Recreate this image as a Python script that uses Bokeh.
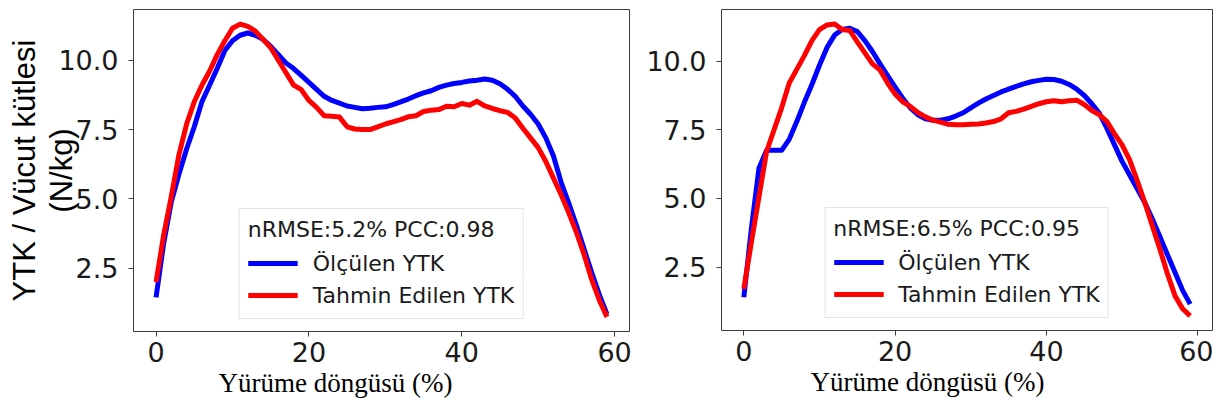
from bokeh.plotting import figure
from bokeh.layouts import row
from bokeh.models import (Legend, LegendItem, Range1d, FixedTicker,
                          PrintfTickFormatter, Title)
from bokeh.embed import file_html
from bokeh.resources import INLINE

# ---------------- data ----------------
frames = list(range(60))

left_measured = [1.45, 3.4, 4.9, 5.9, 6.8, 7.6, 8.5, 9.1, 9.7, 10.35,
                 10.7, 10.9, 10.98, 10.9, 10.75, 10.5, 10.2, 9.9, 9.7, 9.45,
                 9.2, 8.95, 8.7, 8.55, 8.45, 8.35, 8.3, 8.25, 8.27, 8.3,
                 8.32, 8.4, 8.5, 8.6, 8.72, 8.82, 8.9, 9.02, 9.1, 9.16,
                 9.2, 9.25, 9.28, 9.32, 9.28, 9.15, 8.95, 8.7, 8.35, 8.05,
                 7.7, 7.2, 6.55, 5.6, 4.85, 4.05, 3.2, 2.35, 1.55, 0.85]
left_predicted = [2.0, 3.7, 5.1, 6.6, 7.7, 8.5, 9.1, 9.6, 10.2, 10.7,
                  11.15, 11.3, 11.22, 11.05, 10.75, 10.45, 10.0, 9.55, 9.1, 8.94,
                  8.55, 8.3, 8.0, 7.98, 7.95, 7.6, 7.52, 7.5, 7.5, 7.6,
                  7.7, 7.78, 7.86, 7.96, 8.0, 8.15, 8.2, 8.22, 8.34, 8.32,
                  8.44, 8.38, 8.52, 8.35, 8.26, 8.18, 8.12, 7.92, 7.55, 7.2,
                  6.85, 6.35, 5.75, 5.15, 4.5, 3.8, 3.0, 2.1, 1.35, 0.75]

right_measured = [1.4, 3.9, 6.1, 6.75, 6.75, 6.75, 7.15, 7.8, 8.5, 9.15,
                  9.85, 10.5, 10.95, 11.15, 11.2, 11.08, 10.75, 10.35, 9.9, 9.47,
                  9.05, 8.65, 8.3, 8.05, 7.9, 7.85, 7.85, 7.9, 8.0, 8.12,
                  8.3, 8.47, 8.62, 8.75, 8.88, 8.98, 9.08, 9.17, 9.25, 9.3,
                  9.34, 9.33, 9.27, 9.15, 8.98, 8.75, 8.45, 8.1, 7.55, 6.95,
                  6.35, 5.85, 5.35, 4.85, 4.25, 3.6, 2.95, 2.3, 1.65, 1.15]
right_predicted = [1.7, 3.4, 5.05, 6.7, 7.5, 8.3, 9.2, 9.7, 10.2, 10.75,
                   11.15, 11.32, 11.35, 11.15, 11.12, 10.7, 10.3, 9.9, 9.68, 9.2,
                   8.8, 8.52, 8.35, 8.13, 7.97, 7.85, 7.78, 7.7, 7.68, 7.68,
                   7.7, 7.71, 7.75, 7.8, 7.9, 8.12, 8.17, 8.25, 8.35, 8.45,
                   8.52, 8.56, 8.52, 8.56, 8.58, 8.42, 8.2, 8.05, 7.8, 7.35,
                   6.95, 6.4, 5.65, 4.85, 4.0, 3.15, 2.25, 1.45, 0.98, 0.72]

x_ticks = [0, 20, 40, 60]
y_ticks = [2.5, 5.0, 7.5, 10.0]
left_metrics = "nRMSE:5.2% PCC:0.98"
right_metrics = "nRMSE:6.5% PCC:0.95"
legend_labels = ["Ölçülen YTK", "Tahmin Edilen YTK"]
x_label = "Yürüme döngüsü (%)"
y_label_lines = ["YTK / Vücut kütlesi", "(N/kg)"]

# ---------------- styling ----------------
BLUE = "#0000ff"
RED = "#ff0000"
TEXT = "#1a1a1a"
FRAME = "#3c3c3c"
TOTAL_H = 410


def padded_range(vals):
    lo, hi = min(vals), max(vals)
    span = hi - lo
    return Range1d(lo - 0.05 * span, hi + 0.05 * span)


def make_panel(measured, predicted, metrics, b_left, b_top, b_right, frame_w,
               frame_h, xlabel_offset, with_ylabel):
    xr = padded_range(frames)
    yr = padded_range(measured + predicted)
    p = figure(frame_width=frame_w, frame_height=frame_h, x_range=xr, y_range=yr,
               output_backend="svg", toolbar_location=None,
               min_border_left=b_left, min_border_right=b_right,
               min_border_top=b_top,
               min_border_bottom=TOTAL_H - frame_h - b_top)
    p.grid.visible = False
    p.outline_line_color = FRAME
    p.outline_line_width = 1
    p.background_fill_color = "white"
    p.border_fill_color = "white"

    for ax in (p.xaxis[0], p.yaxis[0]):
        ax.axis_line_color = None
        ax.major_tick_line_color = FRAME
        ax.major_tick_in = 0
        ax.major_tick_out = 5
        ax.minor_tick_line_color = None
        ax.major_label_text_font = "DejaVu Sans"
        ax.major_label_text_font_size = "27px"
        ax.major_label_text_color = TEXT
    p.xaxis[0].ticker = FixedTicker(ticks=x_ticks, minor_ticks=[])
    p.yaxis[0].ticker = FixedTicker(ticks=y_ticks, minor_ticks=[])
    p.yaxis[0].formatter = PrintfTickFormatter(format="%.1f")
    p.xaxis[0].major_label_standoff = 5
    p.yaxis[0].major_label_standoff = 10

    r1 = p.line(frames, measured, line_color=BLUE, line_width=5, line_join="round")
    r2 = p.line(frames, predicted, line_color=RED, line_width=5, line_join="round")

    legend = Legend(items=[LegendItem(label=legend_labels[0], renderers=[r1]),
                           LegendItem(label=legend_labels[1], renderers=[r2])],
                    title=metrics, location="bottom_center", margin=12,
                    padding=8, spacing=2, glyph_width=50, glyph_height=30,
                    label_height=30, label_standoff=15, title_standoff=6,
                    label_text_font="DejaVu Sans", label_text_font_size="22px",
                    label_text_color=TEXT,
                    title_text_font="DejaVu Sans", title_text_font_size="22px",
                    title_text_font_style="normal", title_text_color=TEXT,
                    border_line_color="#cccccc", border_line_width=1,
                    background_fill_color="white", background_fill_alpha=0.8)
    p.add_layout(legend)

    # x-axis label: serif, left-offset as in the source figure
    p.add_layout(Title(text=x_label, align="left", offset=xlabel_offset,
                       vertical_align="top", standoff=6,
                       text_font="Liberation Serif", text_font_size="27px",
                       text_font_style="normal", text_color="black"), "below")

    if with_ylabel:
        yax = p.yaxis[0]
        yax.axis_label = y_label_lines[1]
        yax.axis_label_text_font = "Liberation Sans"
        yax.axis_label_text_font_size = "31px"
        yax.axis_label_text_font_style = "normal"
        yax.axis_label_text_color = "black"
        yax.axis_label_standoff = -24
        p.add_layout(Title(text=y_label_lines[0], align="center",
                           vertical_align="bottom", standoff=0,
                           text_font="Liberation Sans", text_font_size="31px",
                           text_font_style="normal", text_color="black"), "left")
    return p


p_left = make_panel(left_measured, left_predicted, left_metrics,
                    b_left=133, b_top=7, b_right=4, frame_w=496, frame_h=322,
                    xlabel_offset=85, with_ylabel=True)
p_right = make_panel(right_measured, right_predicted, right_metrics,
                     b_left=88, b_top=9, b_right=1, frame_w=491, frame_h=321,
                     xlabel_offset=89, with_ylabel=False)

layout = row(p_left, p_right, spacing=0)
open("out.html", "w").write(file_html(layout, INLINE))
